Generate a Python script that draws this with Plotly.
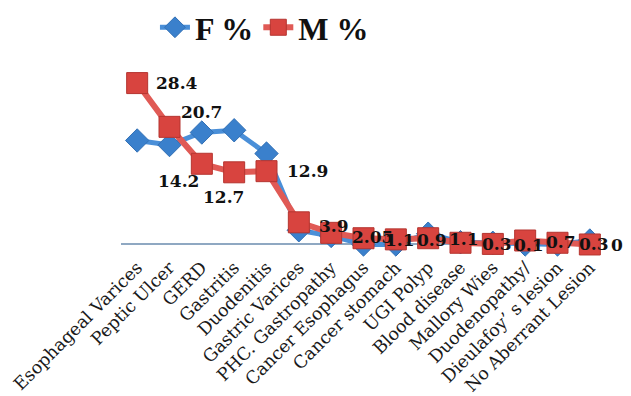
import plotly.graph_objects as go

# Endoscopic findings by sex (percent of patients)
categories = [
    "Esophageal Varices", "Peptic Ulcer", "GERD", "Gastritis", "Duodenitis",
    "Gastric Varices", "PHC. Gastropathy", "Cancer Esophagus", "Cancer stomach",
    "UGI Polyp", "Blood disease", "Mallory Wies", "Duodenopathy/",
    "Dieulafoy’ s lesion", "No Aberrant Lesion",
]
female_pct = [18.3, 17.5, 19.7, 20.1, 16.0, 2.5, 1.5, 0.0, 0.0, 1.9, 0.4, 0.3, 0.0, 0.0, 0.7]
male_pct = [28.4, 20.7, 14.2, 12.7, 12.9, 3.9, 2.05, 1.1, 0.9, 1.1, 0.3, 0.1, 0.7, 0.3, 0]

# placement of each M % value label relative to its point: (xanchor, xshift, yshift)
label_offsets = [
    ("left", 17, 0), ("left", 9, 15), ("center", -23, -17), ("center", -11, -25),
    ("left", 18, 0), ("left", 18, -4), ("left", 19, -4), ("left", 19, -2),
    ("left", 19, -1), ("left", 19, -1), ("left", 19, -1), ("left", 19, -1),
    ("left", 19, -1), ("left", 19, -1), ("left", 19, -1),
]

fig = go.Figure()

fig.add_trace(go.Scatter(
    x=categories, y=female_pct, name="F %", mode="lines+markers",
    line=dict(color="#4a8fd8", width=5),
    marker=dict(symbol="diamond", size=18, color="#3a80cc",
                line=dict(color="#3270b5", width=1)),
    cliponaxis=False,
))

fig.add_trace(go.Scatter(
    x=categories, y=male_pct, name="M %", mode="lines+markers",
    line=dict(color="#e05a55", width=6),
    marker=dict(symbol="square", size=21, color="#d8443f",
                line=dict(color="#b53530", width=1)),
    cliponaxis=False,
))

for cat, val, (anchor, dx, dy) in zip(categories, male_pct, label_offsets):
    fig.add_annotation(
        x=cat, y=val, text=str(val), showarrow=False,
        xanchor=anchor, yanchor="middle", xshift=dx, yshift=dy,
        font=dict(family="DejaVu Serif", size=17, color="#111111", weight="bold"),
    )

fig.update_layout(
    width=631, height=396,
    margin=dict(l=121, r=25, t=74, b=143, autoexpand=False),
    paper_bgcolor="white", plot_bgcolor="white",
    showlegend=True,
    legend=dict(
        orientation="h", x=0.07, xanchor="left", y=1.26, yanchor="middle",
        font=dict(family="Liberation Serif", size=32, color="#111111", weight="bold"),
        itemwidth=30, tracegroupgap=0, bgcolor="rgba(0,0,0,0)",
    ),
    xaxis=dict(
        type="category", range=[-0.5, 14.5], showgrid=False, showline=False,
        ticks="", tickangle=-45, automargin=False,
        tickfont=dict(family="DejaVu Serif", size=17.5, color="#1a1a1a"),
    ),
    yaxis=dict(
        range=[-1.5, 30], showgrid=False, showticklabels=False, ticks="",
        automargin=False,
        zeroline=True, zerolinecolor="#8fa8c2", zerolinewidth=1.5,
    ),
)

fig.write_html("out.html")
